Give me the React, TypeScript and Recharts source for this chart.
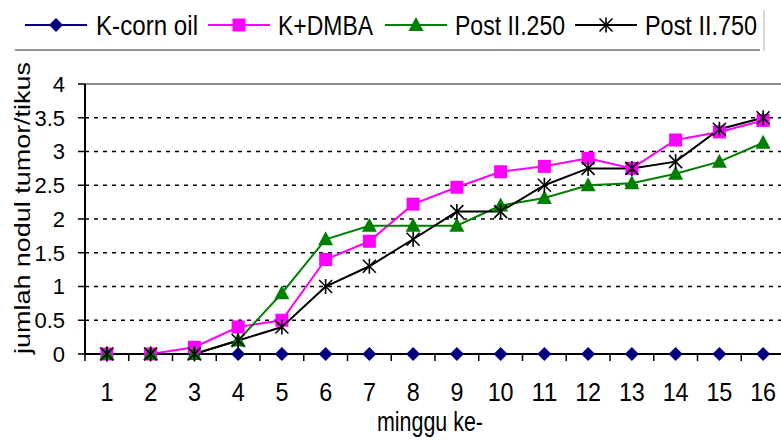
import React from "react";
import {
  LineChart,
  Line,
  XAxis,
  YAxis,
  CartesianGrid,
  ReferenceLine,
  Label,
} from "recharts";

const weeks = [1, 2, 3, 4, 5, 6, 7, 8, 9, 10, 11, 12, 13, 14, 15, 16];
const kCornOil = [0, 0, 0, 0, 0, 0, 0, 0, 0, 0, 0, 0, 0, 0, 0, 0];
const kDmba = [0, 0, 0.1, 0.4, 0.5, 1.4, 1.67, 2.22, 2.47, 2.7, 2.78, 2.9, 2.75, 3.17, 3.29, 3.46];
const post250 = [0, 0, 0, 0.2, 0.9, 1.7, 1.9, 1.9, 1.9, 2.2, 2.31, 2.5, 2.53, 2.67, 2.85, 3.13];
const post750 = [0, 0, 0, 0.2, 0.4, 1.0, 1.3, 1.7, 2.11, 2.11, 2.5, 2.75, 2.75, 2.85, 3.33, 3.5];
const yTicks = [0, 0.5, 1, 1.5, 2, 2.5, 3, 3.5, 4];

const FONT = "'Liberation Sans', Arial, sans-serif";
const NAVY = "#000080";
const MAGENTA = "#FF00FF";
const GREEN = "#008000";
const BLACK = "#000000";

const data = weeks.map((w, i) => ({
  week: w,
  kCornOil: kCornOil[i],
  kDmba: kDmba[i],
  post250: post250[i],
  post750: post750[i],
}));

// ticks at category edges (marks) and centres (labels)
const xTicks = [...weeks.map((w) => w - 0.5), weeks[weeks.length - 1] + 0.5, ...weeks].sort(
  (a, b) => a - b
);

function Diamond({ cx, cy }: any) {
  if (cx == null || cy == null) return null;
  const r = 7;
  return (
    <polygon
      points={`${cx},${cy - r} ${cx + r},${cy} ${cx},${cy + r} ${cx - r},${cy}`}
      fill={NAVY}
    />
  );
}

function Square({ cx, cy }: any) {
  if (cx == null || cy == null) return null;
  const r = 6.5;
  return <rect x={cx - r} y={cy - r} width={r * 2} height={r * 2} fill={MAGENTA} />;
}

function Triangle({ cx, cy }: any) {
  if (cx == null || cy == null) return null;
  return (
    <polygon
      points={`${cx},${cy - 8} ${cx + 7.5},${cy + 6} ${cx - 7.5},${cy + 6}`}
      fill={GREEN}
    />
  );
}

function Star({ cx, cy }: any) {
  if (cx == null || cy == null) return null;
  const r = 6.5;
  return (
    <g stroke={BLACK} strokeWidth={1.6}>
      <line x1={cx - r} y1={cy - r} x2={cx + r} y2={cy + r} />
      <line x1={cx - r} y1={cy + r} x2={cx + r} y2={cy - r} />
      <line x1={cx} y1={cy - r - 1} x2={cx} y2={cy + r + 1} />
    </g>
  );
}

function XTick({ x, y, payload }: any) {
  const v = payload.value;
  if (!Number.isInteger(v)) {
    return <line x1={x} y1={y} x2={x} y2={y + 7} stroke="#000" strokeWidth={1.5} />;
  }
  const s = String(v);
  return (
    <text
      x={x}
      y={y + 38}
      textAnchor="middle"
      dominantBaseline="central"
      fontSize={25}
      fontFamily={FONT}
      textLength={s.length * 13}
      lengthAdjust="spacingAndGlyphs"
      fill="#000"
    >
      {s}
    </text>
  );
}

const legendItems = [
  { name: "K-corn oil", color: NAVY, Marker: Diamond, lineX: 25, textX: 96, w: 102 },
  { name: "K+DMBA", color: MAGENTA, Marker: Square, lineX: 208, textX: 278, w: 95 },
  { name: "Post II.250", color: GREEN, Marker: Triangle, lineX: 385, textX: 455, w: 110 },
  { name: "Post II.750", color: BLACK, Marker: Star, lineX: 575, textX: 645, w: 112 },
];

function LegendBox() {
  return (
    <svg width={781} height={60} style={{ position: "absolute", left: 0, top: 0 }}>
      {legendItems.map((it) => (
        <g key={it.name}>
          <line x1={it.lineX} y1={25} x2={it.lineX + 62} y2={25} stroke={it.color} strokeWidth={2} />
          <it.Marker cx={it.lineX + 31} cy={25} />
          <text
            x={it.textX}
            y={26}
            dominantBaseline="central"
            fontSize={27}
            fontFamily={FONT}
            textLength={it.w}
            lengthAdjust="spacingAndGlyphs"
            fill="#000"
          >
            {it.name}
          </text>
        </g>
      ))}
      <line x1={15} y1={50} x2={760} y2={50} stroke="#707070" strokeWidth={1.5} />
      <line x1={764} y1={10} x2={764} y2={51} stroke="#b0b0b0" strokeWidth={1} />
    </svg>
  );
}

export default function App() {
  return (
    <div style={{ position: "absolute", left: 0, top: 0, width: 781, height: 440, overflow: "hidden", background: "#fff" }}>
      <LineChart
        width={790}
        height={440}
        data={data}
        margin={{ top: 84, right: 5, bottom: 0, left: 0 }}
      >
        <CartesianGrid horizontal vertical={false} stroke="#000" strokeDasharray="4 5" strokeWidth={1.5} />
        <ReferenceLine y={4} stroke="#8a8a8a" strokeWidth={2} />
        <XAxis
          dataKey="week"
          type="number"
          domain={[0.5, 16.5]}
          ticks={xTicks}
          interval={0}
          tickSize={0}
          tickMargin={0}
          tickLine={false}
          tick={<XTick />}
          height={86}
          axisLine={{ stroke: "#000", strokeWidth: 2 }}
        >
          <Label
            content={() => (
              <text
                x={430}
                y={422}
                textAnchor="middle"
                dominantBaseline="central"
                fontSize={27}
                fontFamily={FONT}
                textLength={106}
                lengthAdjust="spacingAndGlyphs"
                fill="#000"
              >
                minggu ke-
              </text>
            )}
          />
        </XAxis>
        <YAxis
          domain={[0, 4]}
          ticks={yTicks}
          interval={0}
          width={85}
          tickSize={7}
          tickMargin={13}
          tick={{ fontSize: 22, fontFamily: FONT, fill: "#000" }}
          tickLine={{ stroke: "#000", strokeWidth: 1.5 }}
          axisLine={{ stroke: "#000", strokeWidth: 2 }}
        >
          <Label
            content={() => (
              <text
                x={22}
                y={208}
                transform="rotate(-90 22 208)"
                textAnchor="middle"
                dominantBaseline="central"
                fontSize={22}
                fontFamily={FONT}
                textLength={292}
                lengthAdjust="spacingAndGlyphs"
                fill="#000"
              >
                jumlah nodul tumor/tikus
              </text>
            )}
          />
        </YAxis>
        <Line dataKey="kCornOil" stroke={NAVY} strokeWidth={2} dot={<Diamond />} isAnimationActive={false} />
        <Line dataKey="kDmba" stroke={MAGENTA} strokeWidth={2} dot={<Square />} isAnimationActive={false} />
        <Line dataKey="post250" stroke={GREEN} strokeWidth={2} dot={<Triangle />} isAnimationActive={false} />
        <Line dataKey="post750" stroke={BLACK} strokeWidth={2} dot={<Star />} isAnimationActive={false} />
      </LineChart>
      <LegendBox />
    </div>
  );
}
